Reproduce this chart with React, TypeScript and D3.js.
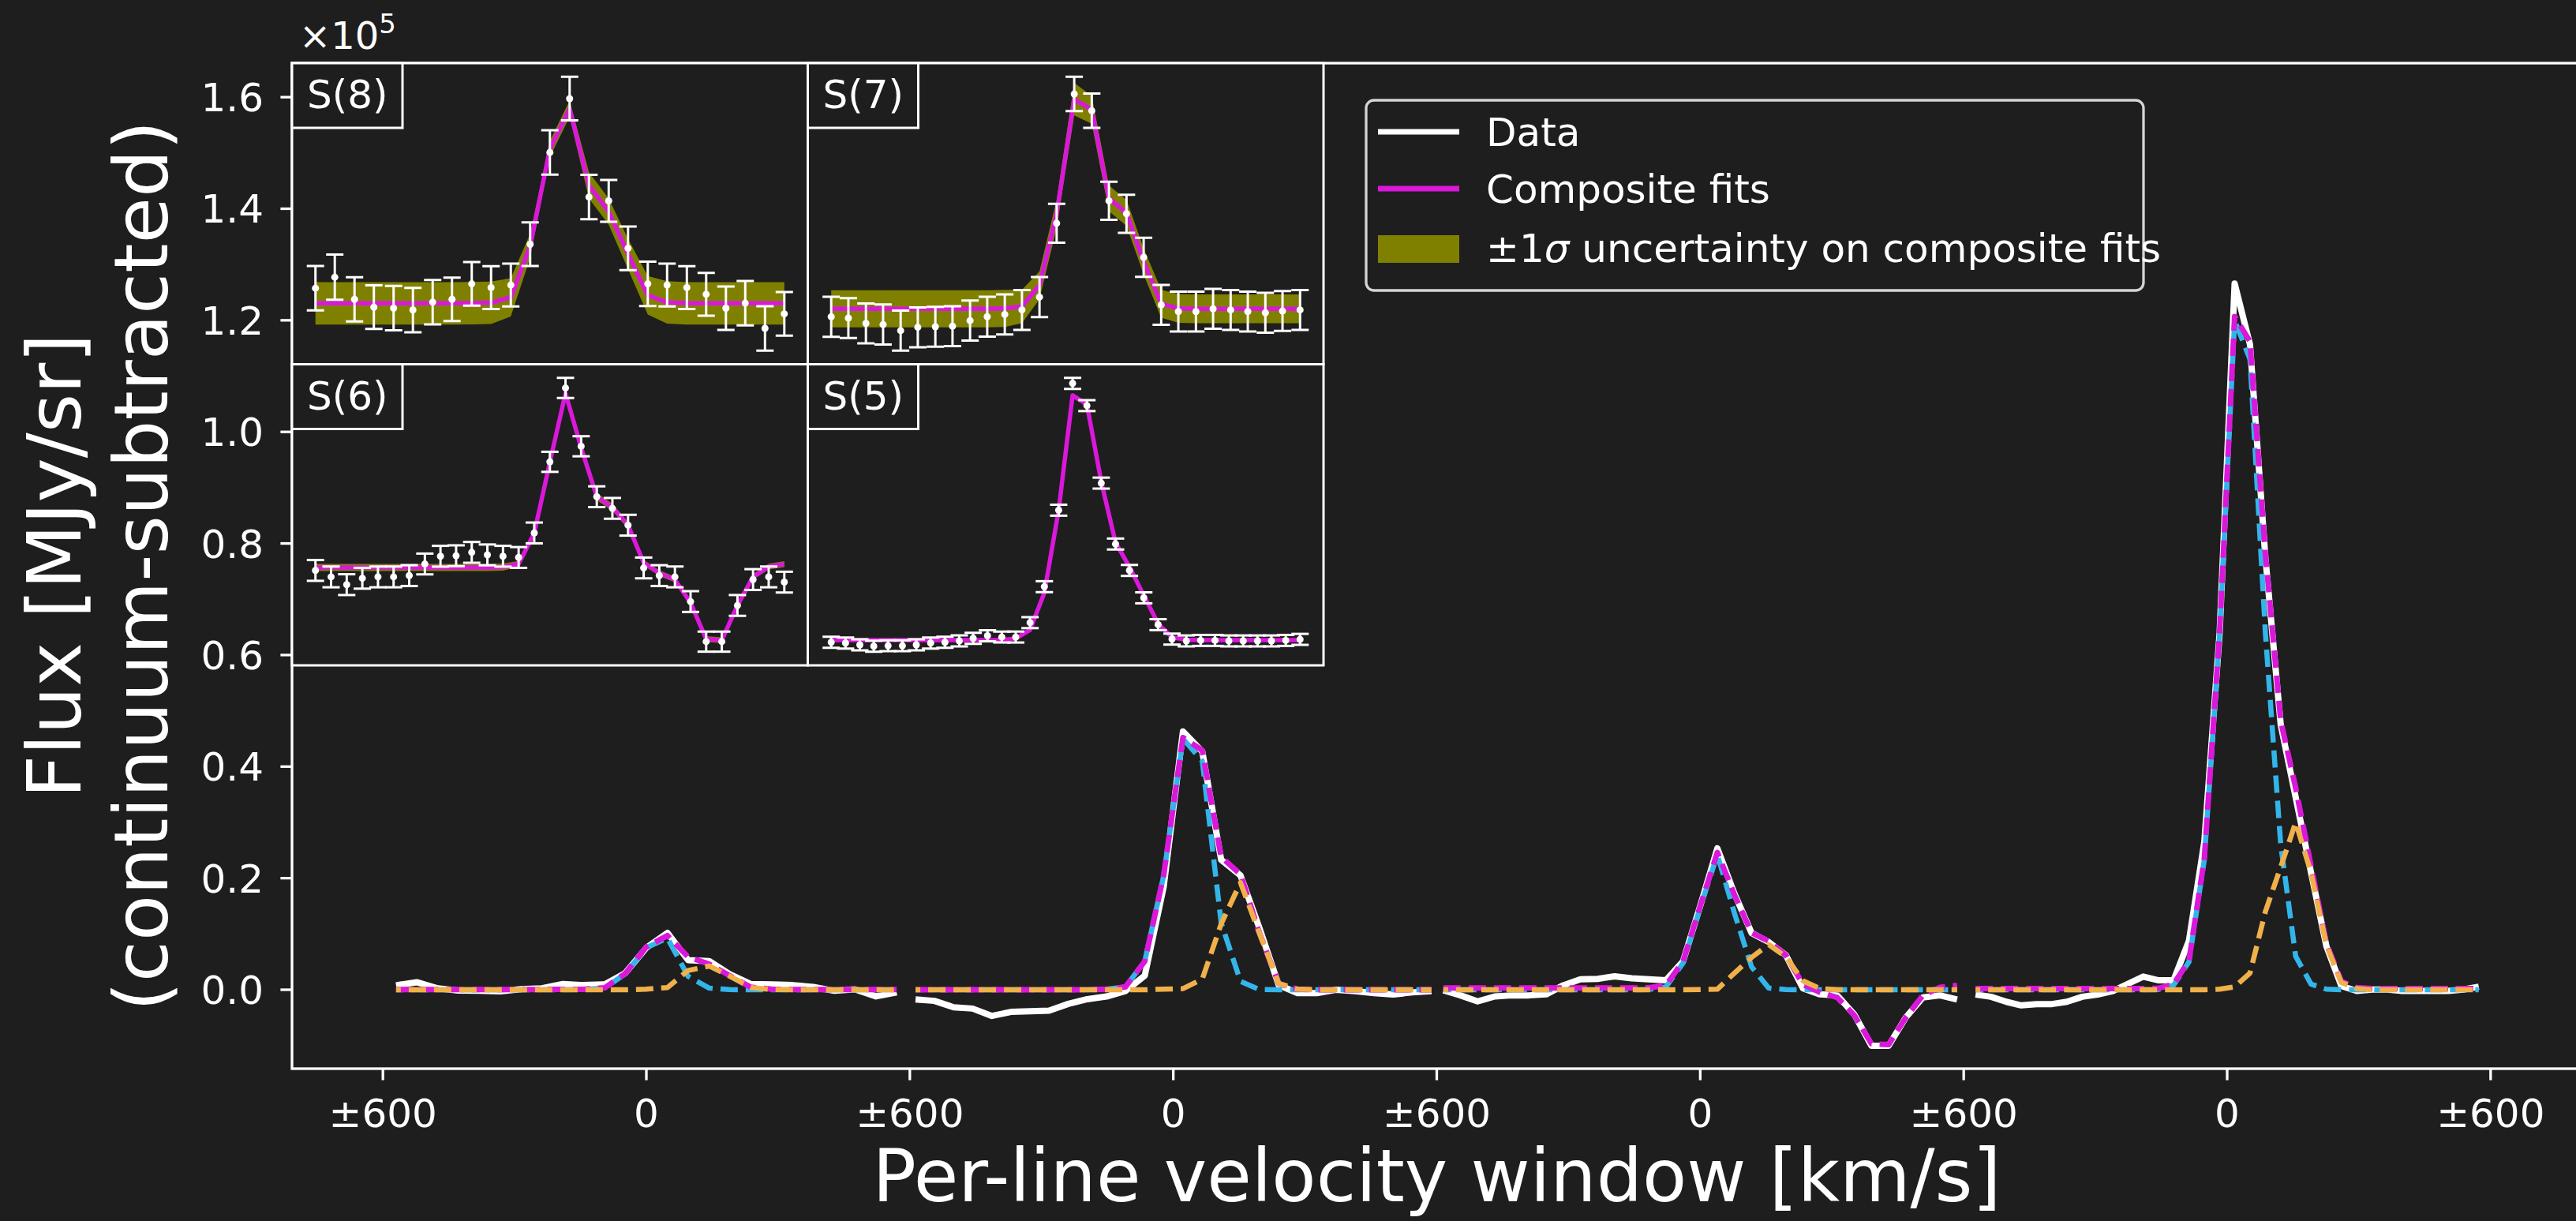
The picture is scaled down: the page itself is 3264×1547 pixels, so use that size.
import React from 'react';
import * as d3 from 'd3';

// ---------------- data (flux in units of 1e5 MJy/sr, velocity in km/s) ----------------
const LINE_NAMES = ['S(8)', 'S(7)', 'S(6)', 'S(5)'];

const S8_VEL = [-570, -523, -475, -428, -380, -333, -285, -238, -190, -143, -95, -48, 0, 48, 95, 143, 190, 238, 285, 333, 380, 428, 475, 523, 570];
const S8_FLUX = [0.0080, 0.0135, 0.0025, -0.0014, -0.0019, -0.0028, 0.0011, 0.0025, 0.0102, 0.0083, 0.0096, 0.0298, 0.0753, 0.1020, 0.0532, 0.0513, 0.0278, 0.0102, 0.0096, 0.0083, 0.0050, -0.0019, 0.0006, -0.0119, -0.0047];
const S8_ERR = [0.0110, 0.0112, 0.0110, 0.0108, 0.0110, 0.0110, 0.0110, 0.0108, 0.0108, 0.0106, 0.0106, 0.0108, 0.0110, 0.0108, 0.0110, 0.0104, 0.0108, 0.0110, 0.0106, 0.0106, 0.0106, 0.0108, 0.0110, 0.0110, 0.0108];
const S8_FIT = [0.0005, 0.0005, 0.0005, 0.0005, 0.0005, 0.0005, 0.0005, 0.0005, 0.0006, 0.0008, 0.0035, 0.0290, 0.0770, 0.0970, 0.0590, 0.0460, 0.0250, 0.0045, 0.0010, 0.0005, 0.0005, 0.0005, 0.0005, 0.0005, 0.0005];
const S8_NARROW = [0, 0, 0, 0, 0, 0, 0, 0, 0.0001, 0.0003, 0.0030, 0.0285, 0.0755, 0.0925, 0.0240, 0.0030, 0.0002, 0, 0, 0, 0, 0, 0, 0, 0];
const S8_BROAD = [0, 0, 0, 0, 0, 0, 0, 0, 0, 0, 0, 0, 0.0010, 0.0040, 0.0345, 0.0425, 0.0243, 0.0040, 0.0005, 0, 0, 0, 0, 0, 0];
const S8_SIG = [0.0105, 0.0105, 0.0105, 0.0105, 0.0105, 0.0105, 0.0105, 0.0105, 0.0105, 0.0105, 0.0095, 0.0060, 0.0040, 0.0040, 0.0065, 0.0065, 0.0075, 0.0095, 0.0105, 0.0105, 0.0105, 0.0105, 0.0105, 0.0105, 0.0105];

const S7_VEL = [-587, -544, -500, -457, -413, -370, -326, -283, -239, -196, -152, -109, -65, -22, 22, 66, 109, 153, 196, 240, 283, 327, 370, 414, 457, 501, 544, 588];
const S7_FLUX = [-0.0172, -0.0200, -0.0314, -0.0338, -0.0470, -0.0398, -0.0386, -0.0374, -0.0253, -0.0169, -0.0121, -0.0024, 0.0253, 0.1845, 0.4631, 0.4269, 0.2328, 0.2050, 0.1110, 0.0084, -0.0060, -0.0060, 0.0000, -0.0024, -0.0060, -0.0084, -0.0048, -0.0024];
const S7_ERR = [0.043, 0.043, 0.043, 0.043, 0.043, 0.043, 0.043, 0.043, 0.043, 0.043, 0.043, 0.043, 0.043, 0.042, 0.037, 0.037, 0.041, 0.041, 0.042, 0.043, 0.043, 0.043, 0.043, 0.043, 0.043, 0.043, 0.043, 0.043];
const S7_FIT = [0, 0, 0, 0, 0, 0, 0, 0, 0, 0, 0.001, 0.005, 0.051, 0.205, 0.452, 0.429, 0.238, 0.207, 0.102, 0.011, 0.001, 0, 0, 0, 0, 0, 0, 0];
const S7_NARROW = [0, 0, 0, 0, 0, 0, 0, 0, 0, 0, 0.001, 0.005, 0.051, 0.204, 0.450, 0.410, 0.120, 0.015, 0.0005, 0, 0, 0, 0, 0, 0, 0, 0, 0];
const S7_BROAD = [0, 0, 0, 0, 0, 0, 0, 0, 0, 0, 0, 0, 0, 0.001, 0.002, 0.019, 0.118, 0.192, 0.1015, 0.011, 0.001, 0, 0, 0, 0, 0, 0, 0];
const S7_SIG = [0.040, 0.040, 0.040, 0.040, 0.040, 0.040, 0.040, 0.040, 0.040, 0.040, 0.040, 0.036, 0.030, 0.030, 0.035, 0.030, 0.028, 0.028, 0.028, 0.030, 0.031, 0.031, 0.031, 0.031, 0.031, 0.031, 0.031, 0.031];

const S6_VEL = [-585, -546, -507, -468, -429, -390, -351, -312, -273, -234, -195, -156, -117, -78, -39, 0, 39, 78, 117, 156, 195, 234, 273, 312, 351, 390, 429, 468, 507, 546, 585];
const S6_FLUX = [-0.0011, -0.0101, -0.0209, -0.0120, -0.0101, -0.0101, -0.0083, 0.0079, 0.0187, 0.0194, 0.0241, 0.0206, 0.0187, 0.0170, 0.0512, 0.1504, 0.2534, 0.1721, 0.1017, 0.0855, 0.0620, 0.0024, -0.0083, -0.0101, -0.0445, -0.1004, -0.1004, -0.0499, -0.0138, -0.0101, -0.0174];
const S6_ERR = [0.0145, 0.0145, 0.0145, 0.0145, 0.0145, 0.0145, 0.0145, 0.0145, 0.0145, 0.0145, 0.0145, 0.0145, 0.0145, 0.0145, 0.0145, 0.0140, 0.0140, 0.0140, 0.0145, 0.0145, 0.0145, 0.0145, 0.0145, 0.0145, 0.0145, 0.0140, 0.0140, 0.0145, 0.0145, 0.0145, 0.0145];
const S6_FIT = [0.003, 0.003, 0.003, 0.003, 0.003, 0.003, 0.003, 0.003, 0.003, 0.003, 0.003, 0.003, 0.0035, 0.008, 0.051, 0.150, 0.246, 0.170, 0.102, 0.087, 0.062, 0.0097, -0.0047, -0.014, -0.046, -0.0967, -0.0985, -0.0499, -0.0101, 0.0043, 0.0077];
const S6_NARROW = [0, 0, 0, 0, 0, 0, 0, 0, 0, 0, 0, 0, 0.0005, 0.005, 0.048, 0.147, 0.242, 0.137, 0.041, 0.003, 0.0002, 0, 0, 0, 0, 0, 0, 0, 0, 0, 0];
const S6_BROAD = [0, 0, 0, 0, 0, 0, 0, 0, 0, 0, 0, 0, 0, 0, 0, 0.0005, 0.001, 0.030, 0.058, 0.081, 0.059, 0.016, 0.002, 0, 0, 0, 0, 0, 0, 0, 0];
const S6_SIG = [0.005, 0.005, 0.005, 0.005, 0.005, 0.005, 0.005, 0.005, 0.005, 0.005, 0.005, 0.005, 0.005, 0.004, 0.004, 0.004, 0.004, 0.005, 0.005, 0.005, 0.005, 0.004, 0.004, 0.004, 0.004, 0.004, 0.004, 0.004, 0.004, 0.004, 0.004];

const S5_VEL = [-573, -538, -503, -469, -434, -399, -365, -330, -295, -260, -226, -191, -156, -122, -87, -52, -17, 17, 52, 87, 122, 156, 191, 226, 260, 295, 330, 365, 399, 434, 469, 503, 538, 573];
const S5_FLUX = [-0.0087, -0.0126, -0.0216, -0.0281, -0.0257, -0.0257, -0.0216, -0.0126, -0.0087, -0.0022, 0.0106, 0.0235, 0.0169, 0.0169, 0.0879, 0.2650, 0.6416, 1.2659, 1.1567, 0.7750, 0.4750, 0.3450, 0.2100, 0.0780, 0.0068, -0.0022, 0.0003, 0.0003, -0.0022, -0.0022, -0.0022, -0.0022, 0.0003, 0.0055];
const S5_ERR = [0.027, 0.027, 0.027, 0.027, 0.027, 0.027, 0.027, 0.027, 0.027, 0.027, 0.027, 0.027, 0.027, 0.027, 0.027, 0.027, 0.027, 0.027, 0.027, 0.027, 0.027, 0.027, 0.027, 0.027, 0.027, 0.027, 0.027, 0.027, 0.027, 0.027, 0.027, 0.027, 0.027, 0.027];
const S5_FIT = [0.002, 0.002, 0.002, 0.002, 0.002, 0.002, 0.002, 0.002, 0.002, 0.002, 0.002, 0.002, 0.0025, 0.010, 0.052, 0.235, 0.643, 1.207, 1.162, 0.782, 0.482, 0.362, 0.222, 0.083, 0.015, 0.004, 0.002, 0.002, 0.002, 0.002, 0.002, 0.002, 0.002, 0.002];
const S5_NARROW = [0, 0, 0, 0, 0, 0, 0, 0, 0, 0, 0, 0, 0.0005, 0.008, 0.050, 0.233, 0.640, 1.200, 1.130, 0.640, 0.260, 0.060, 0.010, 0.001, 0, 0, 0, 0, 0, 0, 0, 0, 0, 0];
const S5_BROAD = [0, 0, 0, 0, 0, 0, 0, 0, 0, 0, 0, 0, 0, 0, 0, 0, 0.001, 0.005, 0.030, 0.140, 0.220, 0.300, 0.210, 0.080, 0.013, 0.002, 0, 0, 0, 0, 0, 0, 0, 0];
const S5_SIG = [0.005, 0.005, 0.005, 0.005, 0.005, 0.005, 0.005, 0.005, 0.005, 0.005, 0.005, 0.005, 0.005, 0.005, 0.005, 0.006, 0.008, 0.010, 0.009, 0.007, 0.006, 0.006, 0.006, 0.005, 0.005, 0.005, 0.005, 0.005, 0.005, 0.005, 0.005, 0.005, 0.005, 0.005];

const PANEL_SPAN = 1200; // each line gets a ±600 km/s window
const X_DOMAIN = [-807, 4407];
const Y_DOMAIN = [-0.1415, 1.661];
const X_TICKS = [-600, 0, 600, 1200, 1800, 2400, 3000, 3600, 4200];
const X_TICK_LABELS = ['±600', '0', '±600', '0', '±600', '0', '±600', '0', '±600'];
const Y_TICKS = [0, 0.2, 0.4, 0.6, 0.8, 1.0, 1.2, 1.4, 1.6];
const Y_TICK_LABELS = ['0.0', '0.2', '0.4', '0.6', '0.8', '1.0', '1.2', '1.4', '1.6'];
const LEGEND_LABELS = ['Data', 'Composite fits', 'uncertainty on composite fits'];

const LINES = [
  { vel: S8_VEL, flux: S8_FLUX, err: S8_ERR, fit: S8_FIT, narrow: S8_NARROW, broad: S8_BROAD, sig: S8_SIG },
  { vel: S7_VEL, flux: S7_FLUX, err: S7_ERR, fit: S7_FIT, narrow: S7_NARROW, broad: S7_BROAD, sig: S7_SIG },
  { vel: S6_VEL, flux: S6_FLUX, err: S6_ERR, fit: S6_FIT, narrow: S6_NARROW, broad: S6_BROAD, sig: S6_SIG },
  { vel: S5_VEL, flux: S5_FLUX, err: S5_ERR, fit: S5_FIT, narrow: S5_NARROW, broad: S5_BROAD, sig: S5_SIG },
];

// ---------------- styling ----------------
const W = 3264;
const H = 1547;
const BG = '#1e1e1e';
const FG = '#ffffff';
const MAGENTA = '#da18da';
const CYAN = '#33b5ea';
const ORANGE = '#f0b04a';
const OLIVE = '#808000';
const FONT = "'DejaVu Sans', 'Liberation Sans', sans-serif";
const AX = { left: 370, right: 3271, top: 80, bottom: 1354 };
const INSET = { left: 370, top: 80, w: 653.5, h: 381.5 };
const DASH = '22 10';

export default function App() {
  const x = d3.scaleLinear().domain(X_DOMAIN).range([AX.left, AX.right]);
  const y = d3.scaleLinear().domain(Y_DOMAIN).range([AX.bottom, AX.top]);

  const mainPaths = LINES.map((L, i) => {
    const off = PANEL_SPAN * i;
    const gen = d3
      .line<number>()
      .x((_, k) => x(L.vel[k] + off))
      .y((d) => y(d));
    return {
      data: gen(L.flux) || '',
      fit: gen(L.fit) || '',
      narrow: gen(L.narrow) || '',
      broad: gen(L.broad) || '',
    };
  });

  const insets = LINES.map((L, i) => {
    const col = i % 2;
    const row = Math.floor(i / 2);
    const x0 = INSET.left + col * INSET.w;
    const y0 = INSET.top + row * INSET.h;
    const x1 = x0 + INSET.w;
    const y1 = y0 + INSET.h;
    const [vmin, vmax] = d3.extent(L.vel) as [number, number];
    const vpad = (vmax - vmin) * 0.05;
    const ix = d3.scaleLinear().domain([vmin - vpad, vmax + vpad]).range([x0, x1]);
    const lows = L.flux.map((f, k) => f - L.err[k]).concat(L.fit.map((f, k) => f - L.sig[k]));
    const highs = L.flux.map((f, k) => f + L.err[k]).concat(L.fit.map((f, k) => f + L.sig[k]));
    const lo = d3.min(lows) as number;
    const hi = d3.max(highs) as number;
    const ypad = (hi - lo) * 0.05;
    const iy = d3.scaleLinear().domain([lo - ypad, hi + ypad]).range([y1, y0]);
    const band =
      d3
        .area<number>()
        .x((_, k) => ix(L.vel[k]))
        .y0((d, k) => iy(d - L.sig[k]))
        .y1((d, k) => iy(d + L.sig[k]))(L.fit) || '';
    const fitPath =
      d3
        .line<number>()
        .x((_, k) => ix(L.vel[k]))
        .y((d) => iy(d))(L.fit) || '';
    return { i, x0, y0, x1, y1, ix, iy, band, fitPath, L };
  });

  return (
    <svg
      width={W}
      height={H}
      viewBox={`0 0 ${W} ${H}`}
      style={{ position: 'absolute', left: 0, top: 0, display: 'block', background: BG }}
      fontFamily={FONT}
    >
      <defs>
        <clipPath id="mainclip">
          <rect x={AX.left} y={AX.top} width={AX.right - AX.left} height={AX.bottom - AX.top} />
        </clipPath>
        {insets.map((s) => (
          <clipPath id={`inclip${s.i}`} key={s.i}>
            <rect x={s.x0} y={s.y0} width={s.x1 - s.x0} height={s.y1 - s.y0} />
          </clipPath>
        ))}
      </defs>
      <rect x={0} y={0} width={W} height={H} fill={BG} />

      {/* main curves */}
      <g clipPath="url(#mainclip)" fill="none" strokeLinejoin="round">
        {mainPaths.map((p, i) => (
          <path key={`d${i}`} d={p.data} stroke={FG} strokeWidth={8} />
        ))}
        {mainPaths.map((p, i) => (
          <path key={`n${i}`} d={p.narrow} stroke={CYAN} strokeWidth={6.5} strokeDasharray={DASH} strokeDashoffset={12} />
        ))}
        {mainPaths.map((p, i) => (
          <path key={`f${i}`} d={p.fit} stroke={MAGENTA} strokeWidth={7} strokeDasharray={DASH} strokeDashoffset={0} />
        ))}
        {mainPaths.map((p, i) => (
          <path key={`b${i}`} d={p.broad} stroke={ORANGE} strokeWidth={6.5} strokeDasharray={DASH} strokeDashoffset={16} />
        ))}
      </g>

      {/* main axes frame */}
      <rect
        x={AX.left}
        y={AX.top}
        width={AX.right - AX.left}
        height={AX.bottom - AX.top}
        fill="none"
        stroke={FG}
        strokeWidth={3.3}
      />

      {/* y ticks */}
      {Y_TICKS.map((t, k) => (
        <g key={`yt${k}`}>
          <line x1={AX.left - 14.6} x2={AX.left} y1={y(t)} y2={y(t)} stroke={FG} strokeWidth={3.3} />
          <text x={AX.left - 36} y={y(t) + 18} fill={FG} fontSize={50} textAnchor="end">
            {Y_TICK_LABELS[k]}
          </text>
        </g>
      ))}
      <text x={379} y={62} fill={FG} fontSize={48}>
        ×10
        <tspan fontSize={34} dy={-20}>
          5
        </tspan>
      </text>

      {/* x ticks */}
      {X_TICKS.map((t, k) => (
        <g key={`xt${k}`}>
          <line x1={x(t)} x2={x(t)} y1={AX.bottom} y2={AX.bottom + 14.6} stroke={FG} strokeWidth={3.3} />
          <text x={x(t)} y={1428} fill={FG} fontSize={50} textAnchor="middle">
            {X_TICK_LABELS[k]}
          </text>
        </g>
      ))}

      {/* axis labels */}
      <text x={(AX.left + AX.right) / 2} y={1522} fill={FG} fontSize={92} textAnchor="middle">
        Per-line velocity window [km/s]
      </text>
      <text transform={`translate(102, ${(AX.top + AX.bottom) / 2}) rotate(-90)`} fill={FG} fontSize={95} textAnchor="middle">
        Flux [MJy/sr]
      </text>
      <text transform={`translate(212, ${(AX.top + AX.bottom) / 2}) rotate(-90)`} fill={FG} fontSize={95} textAnchor="middle">
        (continuum-subtracted)
      </text>

      {/* legend */}
      <g>
        <rect x={1731} y={127} width={985} height={241} rx={10} ry={10} fill={BG} stroke="#d4d4d4" strokeWidth={3.3} />
        <line x1={1746} x2={1849} y1={167} y2={167} stroke={FG} strokeWidth={7} />
        <text x={1883} y={185} fill={FG} fontSize={50}>
          {LEGEND_LABELS[0]}
        </text>
        <line x1={1746} x2={1849} y1={239} y2={239} stroke={MAGENTA} strokeWidth={7} />
        <text x={1883} y={257} fill={FG} fontSize={50}>
          {LEGEND_LABELS[1]}
        </text>
        <rect x={1746} y={298} width={103} height={35} fill={OLIVE} />
        <text x={1883} y={332} fill={FG} fontSize={50}>
          ±1<tspan fontStyle="italic">σ</tspan> {LEGEND_LABELS[2]}
        </text>
      </g>

      {/* insets */}
      {insets.map((s) => {
        const L = s.L;
        return (
          <g key={`in${s.i}`}>
            <rect x={s.x0} y={s.y0} width={s.x1 - s.x0} height={s.y1 - s.y0} fill={BG} />
            <g clipPath={`url(#inclip${s.i})`}>
              <path d={s.band} fill={OLIVE} stroke="none" />
              <path d={s.fitPath} fill="none" stroke={MAGENTA} strokeWidth={5.5} strokeLinejoin="round" />
              {L.flux.map((f, k) => {
                const cx = s.ix(L.vel[k]);
                const ya = s.iy(f - L.err[k]);
                const yb = s.iy(f + L.err[k]);
                return (
                  <g key={k} stroke={FG} strokeWidth={3}>
                    <line x1={cx} x2={cx} y1={ya} y2={yb} />
                    <line x1={cx - 11} x2={cx + 11} y1={ya} y2={ya} />
                    <line x1={cx - 11} x2={cx + 11} y1={yb} y2={yb} />
                    <circle cx={cx} cy={s.iy(f)} r={4.5} fill={FG} stroke="none" />
                  </g>
                );
              })}
            </g>
            <rect x={s.x0} y={s.y0} width={s.x1 - s.x0} height={s.y1 - s.y0} fill="none" stroke={FG} strokeWidth={3} />
            <rect x={s.x0} y={s.y0} width={140} height={82} fill={BG} stroke={FG} strokeWidth={3} />
            <text x={s.x0 + 19} y={s.y0 + 57} fill={FG} fontSize={50}>
              {LINE_NAMES[s.i]}
            </text>
          </g>
        );
      })}
    </svg>
  );
}
